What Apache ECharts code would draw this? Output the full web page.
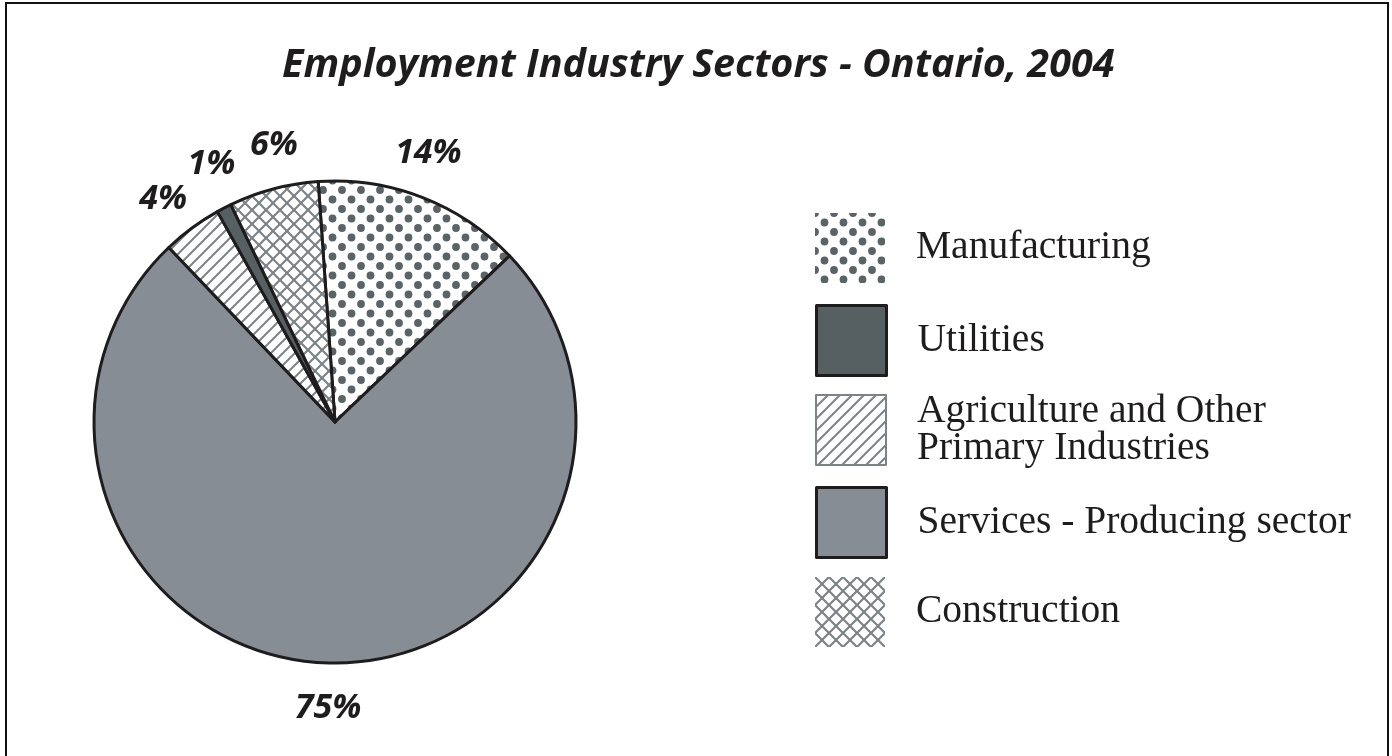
<!DOCTYPE html>
<html>
<head>
<meta charset="utf-8">
<title>Employment Industry Sectors - Ontario, 2004</title>
<script src="https://cdn.jsdelivr.net/npm/echarts@6/dist/echarts.min.js"></script>
<style>
  html, body { margin: 0; padding: 0; background: #fff; }
  #chart { width: 1392px; height: 756px; }
</style>
</head>
<body>
<div id="chart"></div>
<script>
// Sectors in clockwise drawing order, with their share of employment (%)
const sectors = ['Manufacturing', 'Services - Producing sector', 'Agriculture and Other\nPrimary Industries', 'Utilities', 'Construction'];
const shares = [14, 75, 4, 1, 6];
// Order used by the legend
const legendOrder = ['Manufacturing', 'Utilities', 'Agriculture and Other\nPrimary Industries', 'Services - Producing sector', 'Construction'];

const INK = '#1e1c1d';
const PATTERN_DARK = '#5a6366';
const PATTERN_LINE = '#7c8488';

function tile(size, draw) {
  const c = document.createElement('canvas');
  c.width = size; c.height = size;
  const g = c.getContext('2d');
  g.fillStyle = '#ffffff';
  g.fillRect(0, 0, size, size);
  draw(g, size);
  return c;
}

// Staggered dot screen
const dots = tile(19, (g, s) => {
  g.fillStyle = PATTERN_DARK;
  [[0, 0], [s, 0], [0, s], [s, s], [s / 2, s / 2]].forEach(([x, y]) => {
    g.beginPath(); g.arc(x, y, 3.9, 0, Math.PI * 2); g.fill();
  });
});

function slash(g, s) {
  g.beginPath();
  g.moveTo(0, s); g.lineTo(s, 0);
  g.moveTo(-2, 2); g.lineTo(2, -2);
  g.moveTo(s - 2, s + 2); g.lineTo(s + 2, s - 2);
  g.stroke();
}
function backslash(g, s) {
  g.beginPath();
  g.moveTo(0, 0); g.lineTo(s, s);
  g.moveTo(s - 2, -2); g.lineTo(s + 2, 2);
  g.moveTo(-2, s - 2); g.lineTo(2, s + 2);
  g.stroke();
}

// Single diagonal hatch
const hatch = tile(12, (g, s) => {
  g.strokeStyle = PATTERN_LINE; g.lineWidth = 2;
  slash(g, s);
});

// Diagonal cross-hatch
const cross = tile(14, (g, s) => {
  g.strokeStyle = PATTERN_LINE; g.lineWidth = 2.2;
  slash(g, s); backslash(g, s);
});

const fills = {
  'Manufacturing': { image: dots, repeat: 'repeat' },
  'Services - Producing sector': '#878d95',
  'Agriculture and Other\nPrimary Industries': { image: hatch, repeat: 'repeat' },
  'Utilities': '#566063',
  'Construction': { image: cross, repeat: 'repeat' }
};

const legendBorders = {
  'Manufacturing': { borderWidth: 0 },
  'Utilities': { borderColor: INK, borderWidth: 3 },
  'Agriculture and Other\nPrimary Industries': { borderColor: PATTERN_LINE, borderWidth: 2 },
  'Services - Producing sector': { borderColor: INK, borderWidth: 3 },
  'Construction': { borderWidth: 0 }
};

const legendTextBase = {
  fontFamily: 'Liberation Serif',
  fontSize: 39.5,
  color: INK,
  lineHeight: 36,
  padding: [0, 0, 8, 26]
};
// the two-line entry is taller than its swatch, so its block starts higher
const legendTextExtra = {
  'Agriculture and Other\nPrimary Industries': { lineHeight: 37, padding: [34, 0, 0, 26] }
};
const legendTopShift = {
  'Agriculture and Other\nPrimary Industries': -19
};

// small nudges keep the labels of the narrow slices apart
const labelNudge = {
  'Manufacturing': [-10, -2],
  'Construction': [12, 0],
  'Utilities': [8, -4],
  'Agriculture and Other\nPrimary Industries': [-2, 8]
};

const CENTER = [335, 422];
const RADIUS = 241;
const START = 94;

// Percentage labels sit on a polar ring just outside the pie, at the middle of each slice
const labelPoints = [];
let running = 0;
shares.forEach((v, i) => {
  const pt = { value: [1, running + v / 2], share: v };
  if (labelNudge[sectors[i]]) pt.label = { offset: labelNudge[sectors[i]] };
  labelPoints.push(pt);
  running += v;
});

// one legend block per entry, stacked down the right side
const LEGEND_TOP = 213;
const LEGEND_STEP = 91;
const legends = legendOrder.map((name, i) => ({
  orient: 'vertical',
  left: 815,
  top: LEGEND_TOP + i * LEGEND_STEP + (legendTopShift[name] || 0),
  padding: 0,
  icon: 'rect',
  itemWidth: 70,
  itemHeight: 70,
  selectedMode: false,
  textStyle: Object.assign({}, legendTextBase, legendTextExtra[name] || {}),
  data: [{ name, itemStyle: legendBorders[name] }]
}));

const chart = echarts.init(document.getElementById('chart'), null, { renderer: 'canvas' });

chart.setOption({
  backgroundColor: '#ffffff',
  animation: false,
  title: {
    text: 'Employment Industry Sectors - Ontario, 2004',
    left: 282,
    top: 46,
    padding: 0,
    textStyle: {
      fontFamily: 'Open Sans',
      fontStyle: 'italic',
      fontWeight: 'bold',
      fontSize: 39.5,
      color: INK
    }
  },
  legend: legends,
  polar: { center: CENTER, radius: 286 },
  angleAxis: {
    type: 'value', min: 0, max: 100, startAngle: START, clockwise: true,
    show: false
  },
  radiusAxis: { type: 'value', min: 0, max: 1, show: false },
  graphic: [{
    type: 'rect',
    silent: true,
    z: 100,
    shape: { x: 6, y: 3, width: 1382, height: 800 },
    style: { fill: 'none', stroke: '#111', lineWidth: 2 }
  }],
  series: [
    {
      type: 'pie',
      center: CENTER,
      radius: [0, RADIUS],
      startAngle: START,
      clockwise: true,
      silent: true,
      label: { show: false },
      labelLine: { show: false },
      itemStyle: { borderColor: INK, borderWidth: 3 },
      data: sectors.map((name, i) => ({
        name,
        value: shares[i],
        itemStyle: { color: fills[name] }
      }))
    },
    {
      type: 'scatter',
      coordinateSystem: 'polar',
      silent: true,
      symbolSize: 1,
      itemStyle: { color: 'rgba(0,0,0,0)', opacity: 1 },
      label: {
        show: true,
        position: 'inside',
        formatter: p => p.data.share + '%',
        fontFamily: 'Open Sans',
        fontStyle: 'italic',
        fontWeight: 'bold',
        fontSize: 34,
        color: INK,
        opacity: 1
      },
      data: labelPoints
    }
  ]
});
</script>
</body>
</html>
